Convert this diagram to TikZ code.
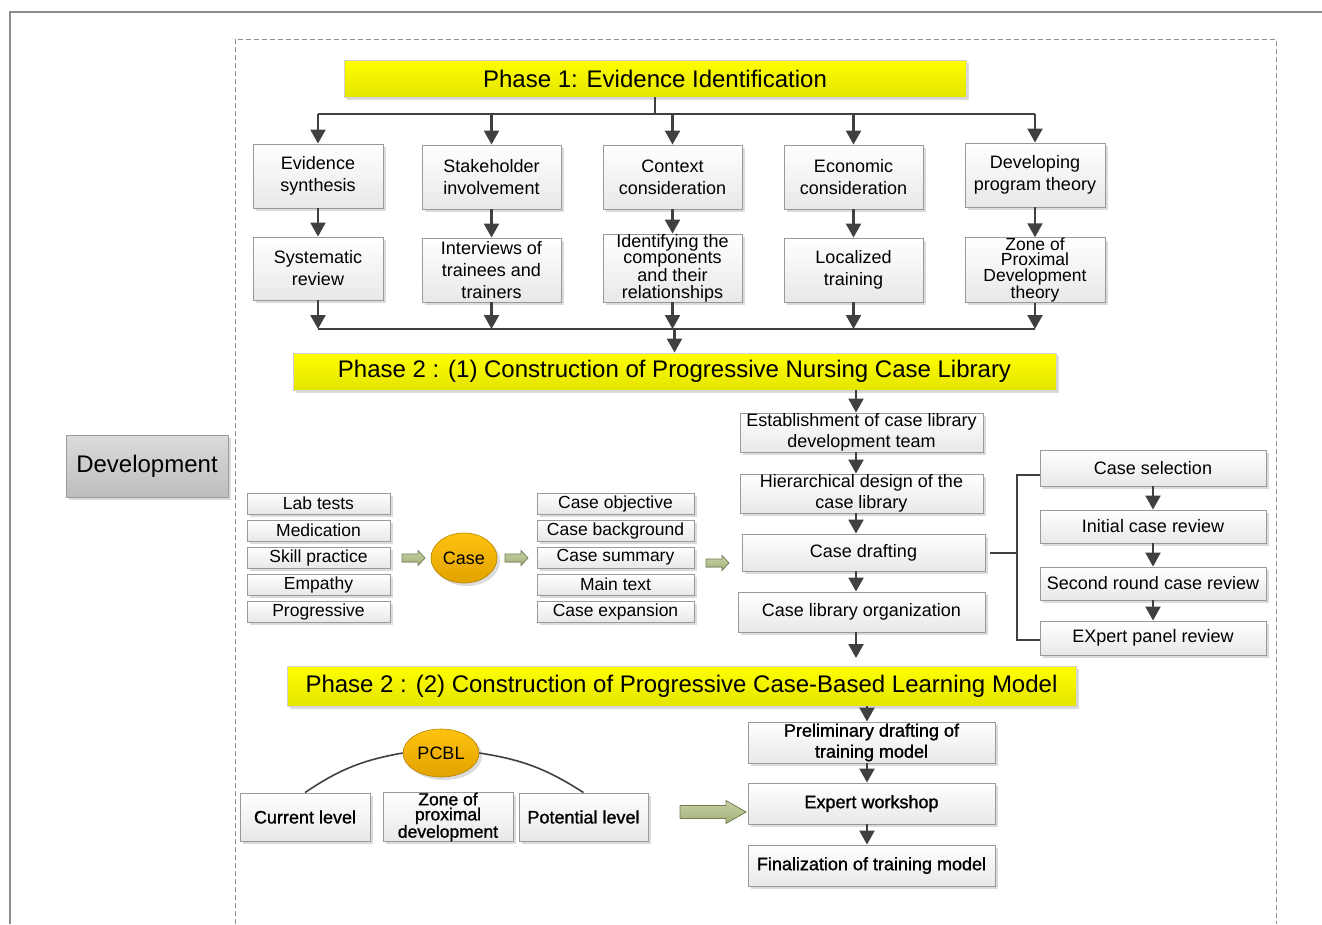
\documentclass[tikz,border=0pt]{standalone}
\usepackage{fontspec}
\setmainfont{Liberation Sans}
\newfontfamily\semib[FakeBold=1.2]{Liberation Sans}
\usetikzlibrary{arrows.meta,shapes.geometric,shadows}
\definecolor{arr}{HTML}{404040}
\definecolor{bord}{HTML}{9A9A9A}
\definecolor{yelbot}{HTML}{E4E400}
\definecolor{orgtop}{HTML}{FFC20E}
\definecolor{orgbot}{HTML}{E2A200}
\definecolor{grtop}{HTML}{C6D0A4}
\definecolor{grbot}{HTML}{A3B177}
\tikzset{
  shad/.style={drop shadow={shadow xshift=3pt,shadow yshift=-3pt,fill=black!14,opacity=1}},
  box/.style={rectangle,draw=bord,line width=0.9pt,top color=white,bottom color=black!9,inner sep=0pt,align=center,shad,font=\fontsize{18}{22}\selectfont},
  lbox/.style={box,font=\fontsize{17.5}{20}\selectfont,minimum height=21},
  banner/.style={rectangle,draw=black!18,line width=0.9pt,top color=yellow,bottom color=yelbot,inner sep=0pt,shad,font=\fontsize{24}{28}\selectfont},
  devbox/.style={rectangle,draw=bord,line width=0.9pt,top color=black!14,bottom color=black!26,inner sep=0pt,shad,font=\fontsize{24}{28}\selectfont},
  oval/.style={ellipse,draw=orgbot!80!black,line width=0.6pt,top color=orgtop,bottom color=orgbot,inner sep=0pt,shad,font=\fontsize{18}{22}\selectfont},
  flow/.style={draw=arr,line width=2.3pt,-{Triangle[width=15pt,length=14pt]}},
  line/.style={draw=arr,line width=2.3pt},
  garr/.style={draw=grbot!70!black,line width=0.7pt,top color=grtop,bottom color=grbot},
}
\newcommand\greenarrow[6]{% x, y, length, shaft, head width, head length
  \filldraw[garr] ({#1-#3/2},{#2-#4/2}) -- ({#1+#3/2-#6},{#2-#4/2}) -- ({#1+#3/2-#6},{#2-#5/2}) -- ({#1+#3/2},#2) -- ({#1+#3/2-#6},{#2+#5/2}) -- ({#1+#3/2-#6},{#2+#4/2}) -- ({#1-#3/2},{#2+#4/2}) -- cycle;}
\begin{document}
\begin{tikzpicture}[x=1pt,y=-1pt]
\useasboundingbox (0,0) rectangle (1322,924);
% frames
\draw[black!45,line width=1.3pt] (10,924) -- (10,12) -- (1322,12);
\draw[black!45,line width=0.9pt,dash pattern=on 5pt off 3pt] (235,924) -- (235,39) -- (1276,39) -- (1276,924);

% Phase 1
\node[banner,minimum width=622,minimum height=37] (p1) at (655,78.5) {Phase 1: Evidence Identification};

\node[box,minimum width=130,minimum height=64] (es) at (318,176) {Evidence\\synthesis};
\node[box,minimum width=139,minimum height=64] (si) at (491.5,177) {Stakeholder\\involvement};
\node[box,minimum width=139,minimum height=64] (cc) at (672.5,177) {Context\\consideration};
\node[box,minimum width=139,minimum height=64] (ec) at (853.5,177) {Economic\\consideration};
\node[box,minimum width=140,minimum height=64] (dp) at (1035,175) {Developing\\program theory};

\node[box,minimum width=130,minimum height=63] (sr) at (318,268.5) {Systematic\\review};
\node[box,minimum width=139,minimum height=64] (it) at (491.5,270) {Interviews of\\trainees and\\trainers};
\node[box,minimum width=139,minimum height=68,font=\fontsize{18}{16.5}\selectfont] (id) at (672.5,268) {Identifying the\\components\\and their\\relationships};
\node[box,minimum width=139,minimum height=64] (lt) at (853.5,270) {Localized\\training};
\node[box,minimum width=140,minimum height=64,font=\fontsize{17.5}{15.5}\selectfont] (zp) at (1035,270) {Zone of\\Proximal\\Development\\theory};

% top bus
\coordinate (tb) at (p1.south |- 0,114);
\coordinate (tbl) at (es.north |- 0,114);
\coordinate (tbr) at (dp.north |- 0,114);
\draw[line] (p1.south) -- (tb);
\draw[line] (tbl) -- (tbr);
\foreach \n in {es,si,cc,ec,dp}{\draw[flow] (\n.north |- tb) -- (\n.north);}
\draw[flow] (es) -- (sr);
\draw[flow] (si) -- (it);
\draw[flow] (cc) -- (id);
\draw[flow] (ec) -- (lt);
\draw[flow] (dp) -- (zp);

% Phase 2 (1)
\node[banner,minimum width=763,minimum height=37] (p2) at (674.5,371.5) {Phase 2 : (1) Construction of Progressive Nursing Case Library};

% bottom bus
\coordinate (bb) at (p2.north |- 0,329);
\coordinate (bbl) at (sr.south |- 0,329);
\coordinate (bbr) at (zp.south |- 0,329);
\draw[line] (bbl) -- (bbr);
\foreach \n in {sr,it,id,lt,zp}{\draw[flow] (\n.south) -- (\n.south |- bb);}
\draw[flow] (bb) -- (p2.north -| bb);

% construction column
\node[box,minimum width=243,minimum height=39,font=\fontsize{18}{21}\selectfont] (est) at (861.5,432.5) {Establishment of case library\\development team};
\node[box,minimum width=243,minimum height=39,font=\fontsize{18}{21}\selectfont] (hie) at (861.5,493.5) {Hierarchical design of the\\case library};
\node[box,minimum width=243,minimum height=37] (dra) at (863.5,552.5) {Case drafting};
\node[box,minimum width=247,minimum height=40] (org) at (861.5,612) {Case library organization};

\coordinate (c1) at (856,390);
\draw[flow] (c1) -- (c1 |- est.north);
\draw[flow] (est.south -| c1) -- (hie.north -| c1);
\draw[flow] (hie.south -| c1) -- (dra.north -| c1);
\draw[flow] (dra.south -| c1) -- (org.north -| c1);

% review column
\node[box,minimum width=226,minimum height=36] (csel) at (1153,468) {Case selection};
\node[box,minimum width=226,minimum height=33] (icr) at (1153,526.5) {Initial case review};
\node[box,minimum width=226,minimum height=33] (src) at (1153,583.5) {Second round case review};
\node[box,minimum width=226,minimum height=34] (epr) at (1153,638) {EXpert panel review};
\draw[flow] (csel) -- (icr);
\draw[flow] (icr) -- (src);
\draw[flow] (src) -- (epr);
\coordinate (bk) at (1017,552.5);
\draw[line,line width=2pt] ([xshift=5pt]dra.east) -- (bk);
\draw[line,line width=2pt] (csel.west |- 0,475) -- (bk |- 0,475) -- (bk |- 0,640) -- (epr.west |- 0,640);

% left part
\node[devbox,minimum width=162,minimum height=62] (dev) at (147,466) {Development};

\node[lbox,minimum width=143] (l1) at (318.5,503.5) {Lab tests};
\node[lbox,minimum width=143] (l2) at (318.5,530.5) {Medication};
\node[lbox,minimum width=143] (l3) at (318.5,557.5) {Skill practice};
\node[lbox,minimum width=143] (l4) at (318.5,584.5) {Empathy};
\node[lbox,minimum width=143] (l5) at (318.5,611.5) {Progressive};

\node[oval,minimum width=66,minimum height=50] (case) at (464,558) {Case};

\node[lbox,minimum width=157] (r1) at (615.5,503.5) {Case objective};
\node[lbox,minimum width=157] (r2) at (615.5,530.5) {Case background};
\node[lbox,minimum width=157] (r3) at (615.5,557.5) {Case summary};
\node[lbox,minimum width=157] (r4) at (615.5,584.5) {Main text};
\node[lbox,minimum width=157] (r5) at (615.5,611.5) {Case expansion};

\greenarrow{413.5}{558}{23}{8}{15}{7}
\greenarrow{516.5}{558}{23}{8}{15}{7}
\greenarrow{717.5}{563}{23}{8}{15}{7}

% Phase 2 (2)
\node[banner,minimum width=789,minimum height=40] (p3) at (681.5,686) {Phase 2 : (2) Construction of Progressive Case-Based Learning Model};
\draw[flow] (org.south -| c1) -- (c1 |- 0,658);

\node[box,minimum width=247,minimum height=41,font=\semib\fontsize{18}{21}\selectfont] (pre) at (871.5,742.5) {Preliminary drafting of\\training model};
\node[box,minimum width=247,minimum height=41,font=\semib\fontsize{18}{21}\selectfont] (exw) at (871.5,803.5) {Expert workshop};
\node[box,minimum width=247,minimum height=41,font=\semib\fontsize{18}{21}\selectfont] (fin) at (871.5,865.5) {Finalization of training model};
\coordinate (c2) at (867,706);
\draw[flow] (c2) -- (c2 |- pre.north);
\draw[flow] (pre.south -| c2) -- (exw.north -| c2);
\draw[flow] (exw.south -| c2) -- (fin.north -| c2);

\greenarrow{713}{812}{66}{13}{23}{20}

\node[oval,minimum width=76,minimum height=48] (pcbl) at (441,753) {PCBL};
\node[box,minimum width=130,minimum height=48,font=\semib\fontsize{18}{22}\selectfont] (cur) at (305,817) {Current level};
\node[box,minimum width=130,minimum height=48,font=\semib\fontsize{17.5}{15}\selectfont] (zpd) at (448,817) {Zone of\\proximal\\development};
\node[box,minimum width=129,minimum height=48,font=\semib\fontsize{18}{22}\selectfont] (pot) at (583.5,817) {Potential level};
\draw[line,line width=1.6pt] (cur.north) to[bend left=12] (pcbl.west);
\draw[line,line width=1.6pt] (pcbl.east) to[bend left=12] (pot.north);
\end{tikzpicture}
\end{document}
